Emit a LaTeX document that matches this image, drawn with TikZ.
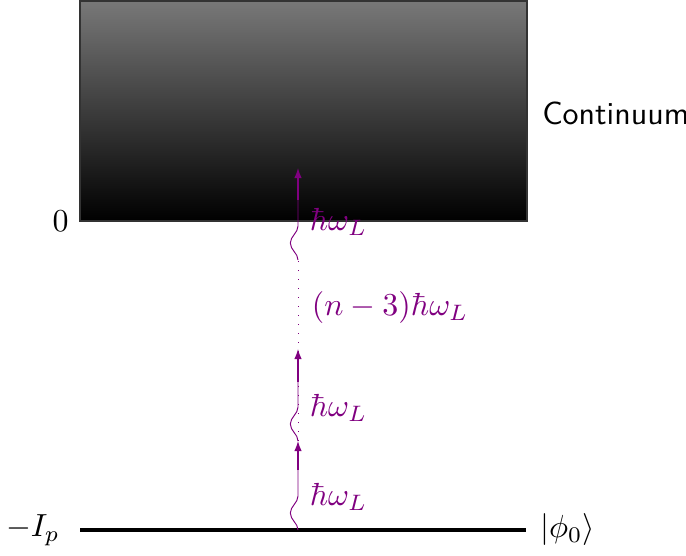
\documentclass[tikz,border=0pt]{standalone}
\usetikzlibrary{decorations.pathmorphing,arrows.meta}
\begin{document}
\begin{tikzpicture}[x=0.011cm, y=0.011cm, >={Latex[length=3.2pt,width=2.4pt]},
    photon/.style={violet, line width=0.3pt, decorate, decoration={snake, amplitude=2.4pt, segment length=17pt, post length=0pt}},
    lbl/.style={violet, anchor=west, inner sep=1pt}]
            \useasboundingbox (0,0) rectangle (686,555);

            % continuum
            \shade[top color=black!53, bottom color=black, draw=black!80] (80,334) rectangle (527,554);
            \node[anchor=west] (cont) at (531,442) {\sffamily Continuum};
            \node[anchor=east] (zero) at (80,334) {$0$};

            % ground state
            \draw[line width=1.2pt] (80,25) coordinate (gl) -- (526,25) coordinate (gr);
            \node[anchor=east] (ip) at (71,25) {$-I_p$};
            \node[anchor=west] (phi) at (529,25) {$|\phi_0\rangle$};

            % photons
            \coordinate (p0) at (298,25);
            \coordinate (w0) at (298,85);
            \coordinate (p1) at (298,114);
            \coordinate (w1) at (298,173);
            \coordinate (p2) at (298,206);
            \coordinate (p3) at (298,295);
            \coordinate (w3) at (298,355);
            \coordinate (p4) at (298,387);
            \draw[violet, line width=0.3pt, dash pattern=on 0.3pt off 2.5pt] (p1) -- (p3);
            \draw[photon] (p0) -- (w0);
            \draw[violet, line width=0.4pt, ->] (w0) -- (p1);
            \draw[photon] (p1) -- (w1);
            \draw[violet, line width=0.4pt, ->] (w1) -- (p2);
            \draw[photon] (p3) -- (w3);
            \draw[violet, line width=0.4pt, ->] (w3) -- (p4);

            \node[lbl] (h1) at (306,58) {$\hbar\omega_L$};
            \node[lbl] (h2) at (306,147) {$\hbar\omega_L$};
            \node[lbl] (hn) at (308,247) {$(n-3)\hbar\omega_L$};
            \node[lbl] (h3) at (306,333) {$\hbar\omega_L$};
        \end{tikzpicture}
\end{document}
